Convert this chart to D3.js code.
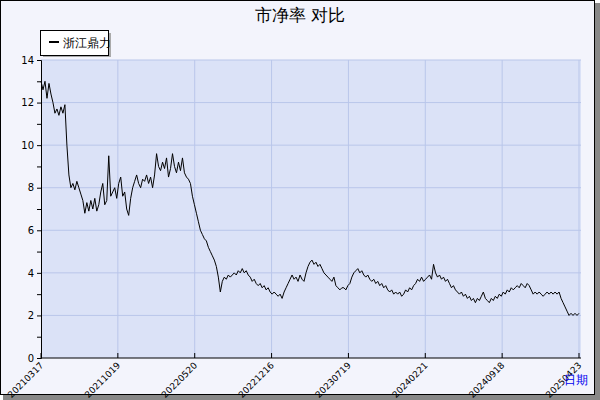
<!DOCTYPE html>
<html><head><meta charset="utf-8">
<script src="https://cdn.jsdelivr.net/npm/d3@7"></script>
<style>body{margin:0;background:#fff}text{font-family:"DejaVu Sans",sans-serif}</style>
</head><body><svg id="c" width="600" height="400"></svg>
<script>
const tickLabels = ["20210317","20211019","20220520","20221216","20230719","20240221","20240918","20250423"];
const pb = [13.0,12.6,13.0,12.2,12.9,12.4,12.0,11.5,11.7,11.4,11.8,11.5,11.9,10.0,8.6,8.0,8.2,7.9,8.3,8.0,7.7,7.4,6.8,7.3,6.9,7.4,7.0,7.5,6.9,7.2,7.8,8.2,7.2,7.4,9.5,7.6,7.8,8.0,7.5,8.2,8.5,7.6,7.8,7.0,6.7,7.5,8.0,8.3,8.6,8.2,8.0,8.4,8.3,8.6,8.2,8.5,8.0,8.6,9.6,9.0,8.8,9.2,8.9,9.4,8.5,8.9,9.6,9.0,8.7,9.2,8.8,9.4,8.7,8.5,8.4,8.2,7.6,7.2,6.8,6.4,6.0,5.8,5.6,5.5,5.2,5.0,4.8,4.6,4.3,3.8,3.1,3.6,3.8,3.7,3.9,3.8,3.9,4.0,3.9,4.1,4.0,4.2,4.0,4.1,3.9,3.8,3.6,3.7,3.5,3.4,3.5,3.3,3.4,3.2,3.3,3.1,3.0,3.1,3.0,2.9,3.0,2.8,3.1,3.3,3.5,3.7,3.9,3.7,3.8,3.6,3.9,3.7,3.6,4.0,4.3,4.5,4.6,4.4,4.5,4.3,4.4,4.2,4.0,3.9,3.8,3.7,3.6,3.8,3.4,3.3,3.2,3.3,3.3,3.2,3.4,3.5,3.8,4.0,4.1,4.2,4.0,4.1,3.9,3.8,3.9,3.7,3.6,3.7,3.5,3.6,3.4,3.5,3.3,3.4,3.2,3.1,3.2,3.0,3.1,3.0,3.1,2.9,3.0,3.2,3.1,3.3,3.2,3.4,3.5,3.7,3.6,3.8,3.6,3.7,3.8,3.9,3.7,4.4,4.0,3.8,3.9,3.7,3.8,3.6,3.7,3.5,3.3,3.4,3.2,3.1,3.0,3.1,2.9,3.0,2.8,2.9,2.7,2.8,2.6,2.8,2.7,2.9,3.1,2.8,2.7,2.6,2.8,2.7,2.9,2.8,3.0,2.9,3.1,3.0,3.2,3.1,3.3,3.2,3.3,3.4,3.3,3.5,3.4,3.3,3.5,3.4,3.2,3.0,3.1,3.0,3.1,3.0,2.9,3.0,3.1,3.0,3.1,3.0,3.1,3.0,3.1,2.8,2.6,2.4,2.2,2.0,2.1,2.0,2.1,2.0,2.1];

const svg = d3.select("#c");
svg.append("rect").attr("x",3).attr("y",3).attr("width",597).attr("height",397).attr("fill","#888");
svg.append("rect").attr("x",0.5).attr("y",0.5).attr("width",594).attr("height",394).attr("fill","#f3f4fc").attr("stroke","#000");

const m = {l:41, r:581, t:60, b:358};
const n = pb.length - 1;
const x = d3.scaleLinear().domain([0,n]).range([m.l, 579]);
const y = d3.scaleLinear().domain([0,14]).range([m.b, m.t]);
const tickPos = tickLabels.map((d,i)=>i*n/7);

svg.append("rect").attr("x",m.l).attr("y",m.t).attr("width",m.r-m.l).attr("height",m.b-m.t).attr("fill","#dbe2f7");
const g = svg.append("g");
g.selectAll(".gx").data(tickPos.slice(1)).join("line")
  .attr("x1",d=>x(d)).attr("x2",d=>x(d)).attr("y1",m.t).attr("y2",m.b).attr("stroke","#b9c6ea");
g.selectAll(".gy").data(d3.range(2,15,2)).join("line")
  .attr("x1",m.l).attr("x2",m.r).attr("y1",d=>y(d)).attr("y2",d=>y(d)).attr("stroke","#b9c6ea");

const line = d3.line().x((d,i)=>x(i)).y(d=>y(d));
svg.append("path").datum(pb).attr("d",line).attr("fill","none").attr("stroke","#000").attr("stroke-width",1);

svg.append("g").attr("transform",`translate(${m.l},0)`)
  .call(d3.axisLeft(y).tickValues(d3.range(0,15,1)).tickSize(4).tickFormat(d=>d%2?"":d))
  .call(a=>a.select(".domain").attr("stroke","#000"))
  .call(a=>a.selectAll("text").attr("font-size",10).attr("fill","#000"));
svg.append("line").attr("x1",m.l).attr("x2",m.r).attr("y1",m.b).attr("y2",m.b).attr("stroke","#000");
const xa = svg.append("g").attr("transform",`translate(0,${m.b})`);
xa.selectAll("line").data(tickPos).join("line").attr("x1",d=>x(d)).attr("x2",d=>x(d)).attr("y1",0).attr("y2",-5).attr("stroke","#000");
xa.selectAll("text").data(tickPos).join("text")
  .attr("transform",d=>`translate(${x(d)+3},8) rotate(-45)`).attr("text-anchor","end")
  .attr("font-size",9).attr("fill","#000").text((d,i)=>tickLabels[i]);

svg.append("text").attr("x",300).attr("y",21).attr("text-anchor","middle").attr("font-size",17)
  .attr("font-family","Noto Sans CJK SC").text("市净率  对比");
svg.append("rect").attr("x",43).attr("y",33).attr("width",68).attr("height",24).attr("fill","#aaa");
svg.append("rect").attr("x",40.5).attr("y",30.5).attr("width",68).attr("height",25).attr("fill","#fff").attr("stroke","#000");
svg.append("line").attr("x1",49).attr("x2",59).attr("y1",42).attr("y2",42).attr("stroke","#000").attr("stroke-width",2);
svg.append("text").attr("x",63).attr("y",47).attr("font-size",12).attr("font-family","Noto Sans CJK SC").text("浙江鼎力");
svg.append("text").attr("x",576).attr("y",384).attr("text-anchor","middle").attr("font-size",12)
  .attr("font-family","Noto Sans CJK SC").attr("fill","#0000ee").text("日期");
</script></body></html>
